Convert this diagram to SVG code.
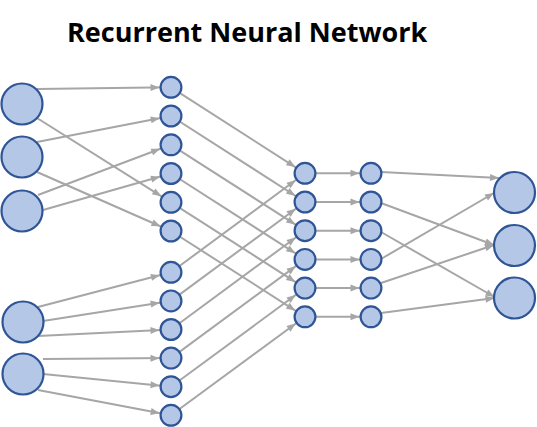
<svg xmlns="http://www.w3.org/2000/svg" width="537" height="427" viewBox="0 0 537 427">
<style>
.n{fill:#b4c7e7;stroke:#2f5597;stroke-width:2.2}
.c line{stroke:#a6a6a6;stroke-width:2;fill:none}
.s{marker-end:url(#as)}
.e{marker-end:url(#at)}
.t{font-family:"Open Sans","Liberation Sans",sans-serif;font-weight:700;font-size:27px;fill:#000}
</style>
<defs>
<marker id="as" markerUnits="userSpaceOnUse" viewBox="0 0 9 8" markerWidth="9" markerHeight="8" refX="20.5" refY="4" orient="auto" overflow="visible"><path d="M0,0.5 L9,4 L0,7.5 z" fill="#a6a6a6"/></marker>
<marker id="at" markerUnits="userSpaceOnUse" viewBox="0 0 9 8" markerWidth="9" markerHeight="8" refX="9" refY="4" orient="auto" overflow="visible"><path d="M0,0.5 L9,4 L0,7.5 z" fill="#a6a6a6"/></marker>
</defs>
<text class="t" x="67" y="42">Recurrent Neural Network</text>
<g id="connectors" class="c">
<line class="s" x1="37" y1="89" x2="171" y2="87.3"/>
<line class="s" x1="37" y1="118" x2="171" y2="202.3"/>
<line class="s" x1="37" y1="142" x2="171" y2="116"/>
<line class="s" x1="37" y1="172" x2="171" y2="231"/>
<line class="s" x1="38" y1="195" x2="171" y2="144.8"/>
<line class="s" x1="43" y1="210" x2="171" y2="173.5"/>
<line class="s" x1="38" y1="307" x2="171" y2="272.3"/>
<line class="s" x1="43" y1="321" x2="171" y2="300.9"/>
<line class="s" x1="38" y1="336" x2="171" y2="329.5"/>
<line class="s" x1="43" y1="359" x2="171" y2="358.1"/>
<line class="s" x1="43" y1="374" x2="171" y2="386.7"/>
<line class="s" x1="38" y1="390" x2="171" y2="415.3"/>
<line class="s" x1="171" y1="87.3" x2="305" y2="173.3"/>
<line class="s" x1="171" y1="116" x2="305" y2="202"/>
<line class="s" x1="171" y1="144.8" x2="305" y2="230.7"/>
<line class="s" x1="171" y1="173.5" x2="305" y2="259.4"/>
<line class="s" x1="171" y1="202.3" x2="305" y2="288.1"/>
<line class="s" x1="171" y1="231" x2="305" y2="316.8"/>
<line class="s" x1="171" y1="272.3" x2="305" y2="173.3"/>
<line class="s" x1="171" y1="300.9" x2="305" y2="202"/>
<line class="s" x1="171" y1="329.5" x2="305" y2="230.7"/>
<line class="s" x1="171" y1="358.1" x2="305" y2="259.4"/>
<line class="s" x1="171" y1="386.7" x2="305" y2="288.1"/>
<line class="s" x1="171" y1="415.3" x2="305" y2="316.8"/>
<line class="s" x1="305" y1="173.3" x2="371" y2="173.3"/>
<line class="s" x1="305" y1="202" x2="371" y2="202"/>
<line class="s" x1="305" y1="230.7" x2="371" y2="230.7"/>
<line class="s" x1="305" y1="259.4" x2="371" y2="259.4"/>
<line class="s" x1="305" y1="288.1" x2="371" y2="288.1"/>
<line class="s" x1="305" y1="316.8" x2="371" y2="316.8"/>
<line class="e" x1="381" y1="172" x2="499" y2="178"/>
<line class="e" x1="381" y1="203" x2="494" y2="245"/>
<line class="e" x1="381" y1="232" x2="494.5" y2="297"/>
<line class="e" x1="381" y1="259" x2="494" y2="193"/>
<line class="e" x1="381" y1="283" x2="494" y2="245"/>
<line class="e" x1="381" y1="313" x2="494.5" y2="298"/>
</g>
<g id="input-1"><circle class="n" cx="22" cy="104" r="20.5"/></g>
<g id="input-2"><circle class="n" cx="22" cy="157" r="20.5"/></g>
<g id="input-3"><circle class="n" cx="22" cy="211" r="20.5"/></g>
<g id="input-4"><circle class="n" cx="23" cy="322" r="20.5"/></g>
<g id="input-5"><circle class="n" cx="23" cy="374" r="20.5"/></g>
<g id="h1-1"><circle class="n" cx="171" cy="87.3" r="10.4"/></g>
<g id="h1-2"><circle class="n" cx="171" cy="116" r="10.4"/></g>
<g id="h1-3"><circle class="n" cx="171" cy="144.8" r="10.4"/></g>
<g id="h1-4"><circle class="n" cx="171" cy="173.5" r="10.4"/></g>
<g id="h1-5"><circle class="n" cx="171" cy="202.3" r="10.4"/></g>
<g id="h1-6"><circle class="n" cx="171" cy="231" r="10.4"/></g>
<g id="h1-7"><circle class="n" cx="171" cy="272.3" r="10.4"/></g>
<g id="h1-8"><circle class="n" cx="171" cy="300.9" r="10.4"/></g>
<g id="h1-9"><circle class="n" cx="171" cy="329.5" r="10.4"/></g>
<g id="h1-10"><circle class="n" cx="171" cy="358.1" r="10.4"/></g>
<g id="h1-11"><circle class="n" cx="171" cy="386.7" r="10.4"/></g>
<g id="h1-12"><circle class="n" cx="171" cy="415.3" r="10.4"/></g>
<g id="h2-1"><circle class="n" cx="305" cy="173.3" r="10.4"/></g>
<g id="h2-2"><circle class="n" cx="305" cy="202" r="10.4"/></g>
<g id="h2-3"><circle class="n" cx="305" cy="230.7" r="10.4"/></g>
<g id="h2-4"><circle class="n" cx="305" cy="259.4" r="10.4"/></g>
<g id="h2-5"><circle class="n" cx="305" cy="288.1" r="10.4"/></g>
<g id="h2-6"><circle class="n" cx="305" cy="316.8" r="10.4"/></g>
<g id="h3-1"><circle class="n" cx="371" cy="173.3" r="10.4"/></g>
<g id="h3-2"><circle class="n" cx="371" cy="202" r="10.4"/></g>
<g id="h3-3"><circle class="n" cx="371" cy="230.7" r="10.4"/></g>
<g id="h3-4"><circle class="n" cx="371" cy="259.4" r="10.4"/></g>
<g id="h3-5"><circle class="n" cx="371" cy="288.1" r="10.4"/></g>
<g id="h3-6"><circle class="n" cx="371" cy="316.8" r="10.4"/></g>
<g id="output-1"><circle class="n" cx="514.5" cy="192.5" r="20.5"/></g>
<g id="output-2"><circle class="n" cx="514.5" cy="245.5" r="20.5"/></g>
<g id="output-3"><circle class="n" cx="514.5" cy="298" r="20.5"/></g>
</svg>
